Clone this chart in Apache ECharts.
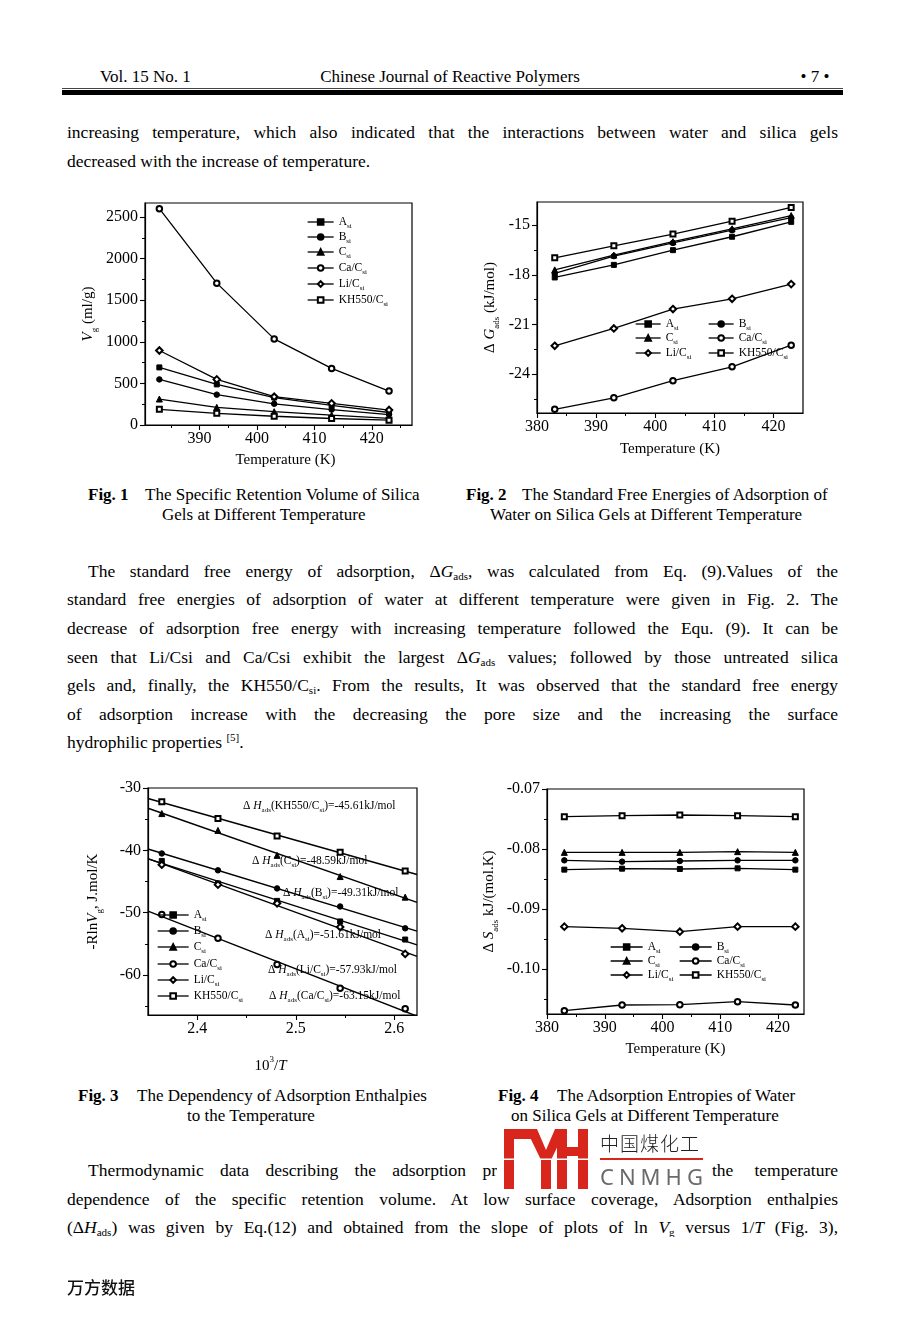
<!DOCTYPE html>
<html><head><meta charset="utf-8">
<script src="https://cdn.jsdelivr.net/npm/echarts@6/dist/echarts.min.js"></script>
<style>
html,body{margin:0;padding:0;background:#fff;}
body{width:904px;height:1320px;position:relative;overflow:hidden;font-family:"Liberation Serif","Times New Roman",serif;color:#000;}
.ln{position:absolute;font-size:17.5px;line-height:20px;height:20px;white-space:nowrap;}
.j{text-align:justify;text-align-last:justify;white-space:normal;overflow:hidden;}
.ln sub{font-size:11px;vertical-align:-3px;line-height:0;}
.ln sup{font-size:11px;vertical-align:7px;line-height:0;}
.hd{position:absolute;font-size:17px;line-height:18px;white-space:nowrap;}
.cap{position:absolute;font-size:17px;line-height:18px;white-space:nowrap;}
.cap b{font-weight:bold;}
.chart{position:absolute;}
</style></head>
<body>
<div class="hd" style="left:100px;top:68px;">Vol. 15 No. 1</div>
<div class="hd" style="left:300px;top:68px;width:300px;text-align:center;">Chinese Journal of Reactive Polymers</div>
<div class="hd" style="left:790px;top:68px;width:50px;text-align:center;">• 7 •</div>
<div style="position:absolute;left:62px;top:88px;width:781px;height:1px;background:#444;"></div>
<div style="position:absolute;left:62px;top:90px;width:781px;height:5px;background:#000;"></div>

<div class="ln j" style="left:67px;top:122px;width:771px;">increasing temperature, which also indicated that the interactions between water and silica gels</div>
<div class="ln" style="left:67px;top:151px;">decreased with the increase of temperature.</div>

<div id="c1" class="chart" style="left:40px;top:190px;width:400px;height:290px;"></div>
<div id="c2" class="chart" style="left:460px;top:190px;width:380px;height:280px;"></div>

<div class="cap" style="left:88px;top:486px;"><b>Fig. 1</b></div>
<div class="cap" style="left:145px;top:486px;">The Specific Retention Volume of Silica</div>
<div class="cap" style="left:162px;top:506px;">Gels at Different Temperature</div>
<div class="cap" style="left:466px;top:486px;"><b>Fig. 2</b></div>
<div class="cap" style="left:522px;top:486px;">The Standard Free Energies of Adsorption of</div>
<div class="cap" style="left:490px;top:506px;">Water on Silica Gels at Different Temperature</div>

<div class="ln j" style="left:88px;top:561px;width:750px;">The standard free energy of adsorption, Δ<i>G</i><sub>ads</sub>, was calculated from Eq. (9).Values of the</div>
<div class="ln j" style="left:67px;top:589px;width:771px;">standard free energies of adsorption of water at different temperature were given in Fig. 2. The</div>
<div class="ln j" style="left:67px;top:618px;width:771px;">decrease of adsorption free energy with increasing temperature followed the Equ. (9). It can be</div>
<div class="ln j" style="left:67px;top:647px;width:771px;">seen that Li/Csi and Ca/Csi exhibit the largest Δ<i>G</i><sub>ads</sub> values; followed by those untreated silica</div>
<div class="ln j" style="left:67px;top:675px;width:771px;">gels and, finally, the KH550/C<sub>si</sub>. From the results, It was observed that the standard free energy</div>
<div class="ln j" style="left:67px;top:704px;width:771px;">of adsorption increase with the decreasing the pore size and the increasing the surface</div>
<div class="ln" style="left:67px;top:732px;">hydrophilic properties <sup>[5]</sup>.</div>

<div id="c3" class="chart" style="left:40px;top:775px;width:400px;height:300px;"></div>
<div id="c4" class="chart" style="left:460px;top:775px;width:380px;height:300px;"></div>

<div class="cap" style="left:78px;top:1087px;"><b>Fig. 3</b></div>
<div class="cap" style="left:137px;top:1087px;">The Dependency of Adsorption Enthalpies</div>
<div class="cap" style="left:187px;top:1107px;">to the Temperature</div>
<div class="cap" style="left:498px;top:1087px;"><b>Fig. 4</b></div>
<div class="cap" style="left:557px;top:1087px;">The Adsorption Entropies of Water</div>
<div class="cap" style="left:511px;top:1107px;">on Silica Gels at Different Temperature</div>

<div class="ln j" style="left:88px;top:1160px;width:409px;">Thermodynamic data describing the adsorption pr</div>
<div class="ln j" style="left:712px;top:1160px;width:126px;">the temperature</div>
<div class="ln j" style="left:67px;top:1189px;width:771px;">dependence of the specific retention volume. At low surface coverage, Adsorption enthalpies</div>
<div class="ln j" style="left:67px;top:1217px;width:771px;">(Δ<i>H</i><sub>ads</sub>) was given by Eq.(12) and obtained from the slope of plots of ln <i>V</i><sub>g</sub> versus 1/<i>T</i> (Fig. 3),</div>

<svg style="position:absolute;left:0;top:0;" width="904" height="1320" viewBox="0 0 904 1320">
  <g fill="#d9261c">
    <rect x="504" y="1129" width="10" height="60"/>
    <rect x="504" y="1129" width="30" height="10"/>
    <polygon points="526,1129 537,1129 546,1150 555,1129 566,1129 551,1160 541,1160"/>
    <rect x="541" y="1158" width="10" height="31"/>
    <rect x="557" y="1129" width="10" height="60"/>
    <rect x="578" y="1129" width="10" height="60"/>
    <rect x="557" y="1147" width="31" height="9"/>
  </g>
  <rect x="500" y="1158.5" width="92" height="1.5" fill="#fff"/>
  <rect x="600" y="1158" width="103" height="2" fill="#d9261c"/>
</svg>
<div style="position:absolute;left:600px;top:1132px;font-family:'Noto Sans CJK SC';font-size:19px;line-height:22px;color:#222;letter-spacing:1px;font-weight:300;">中国煤化工</div>
<div style="position:absolute;left:600px;top:1163px;font-family:'Noto Sans';font-size:22px;line-height:26px;color:#6a6a6a;letter-spacing:5px;">CNMHG</div>

<div style="position:absolute;left:67px;top:1276px;font-family:'Noto Sans CJK SC';font-size:17px;line-height:22px;color:#111;font-weight:500;">万方数据</div>

<script>
// ---------------- data ----------------
const temps = [383, 393, 403, 413, 423];
const invT = [2.364, 2.421, 2.481, 2.545, 2.611];
const seriesNames = ['A', 'B', 'C', 'Ca/C', 'Li/C', 'KH550/C'];

// Fig 1: specific retention volume Vg (ml/g)
const vg_A = [692, 488, 330, 235, 150];
const vg_B = [548, 365, 255, 185, 125];
const vg_C = [312, 212, 160, 118, 80];
const vg_Ca = [2600, 1705, 1035, 680, 408];
const vg_Li = [895, 548, 340, 260, 180];
const vg_KH = [188, 140, 105, 78, 58];
const fig1YTicks = [0, 500, 1000, 1500, 2000, 2500];
const fig1XTicks = [390, 400, 410, 420];

// Fig 2: standard free energy dG (kJ/mol)
const dg_A = [-18.16, -17.40, -16.51, -15.70, -14.80];
const dg_B = [-17.92, -16.87, -16.07, -15.30, -14.55];
const dg_C = [-17.70, -16.81, -16.00, -15.22, -14.42];
const dg_Ca = [-26.13, -25.43, -24.40, -23.56, -22.25];
const dg_Li = [-22.29, -21.24, -20.07, -19.45, -18.56];
const dg_KH = [-16.97, -16.25, -15.54, -14.76, -13.93];
const fig2YTicks = [-24, -21, -18, -15];
const tempTicks = [380, 390, 400, 410, 420];

// Fig 3: -R ln Vg (J/mol/K) vs 1000/T
const rl_A = [-41.7, -45.3, -48.1, -51.4, -54.3];
const rl_B = [-40.5, -43.2, -46.1, -49.0, -52.5];
const rl_C = [-34.1, -36.8, -40.8, -44.2, -47.5];
const rl_Ca = [-50.3, -54.1, -58.3, -62.1, -65.4];
const rl_Li = [-42.3, -45.5, -48.5, -52.3, -56.6];
const rl_KH = [-32.2, -34.9, -37.7, -40.3, -43.3];
const fig3YTicks = [-60, -50, -40, -30];
const fig3XTicks = [2.4, 2.5, 2.6];
const enthalpyLabels = [
  ['KH550/C', '-45.61'], ['C', '-48.59'], ['B', '-49.31'],
  ['A', '-51.61'], ['Li/C', '-57.93'], ['Ca/C', '-63.15']
];

// Fig 4: adsorption entropy dS (kJ/(mol.K))
const ds_A = [-0.08344, -0.08328, -0.08333, -0.08322, -0.08344];
const ds_B = [-0.08189, -0.08211, -0.08200, -0.08189, -0.08189];
const ds_C = [-0.08056, -0.08056, -0.08056, -0.08044, -0.08056];
const ds_Ca = [-0.10694, -0.10600, -0.10594, -0.10544, -0.10600];
const ds_Li = [-0.09294, -0.09322, -0.09378, -0.09294, -0.09294];
const ds_KH = [-0.07461, -0.07444, -0.07433, -0.07444, -0.07461];
const fig4YTicks = [-0.10, -0.09, -0.08, -0.07];

// ---------------- styling helpers ----------------
const SERIF = '"Liberation Serif","Times New Roman",serif';
const SYM = {'A':'rect','B':'circle','C':'triangle','Ca/C':'emptyCircle','Li/C':'emptyDiamond','KH550/C':'emptyRect'};
const SSIZE = {'A':5,'B':5.5,'C':6,'Ca/C':5.5,'Li/C':6.5,'KH550/C':5};
const NAME_RICH = {
  i:{fontStyle:'italic', fontFamily:SERIF, fontSize:15, color:'#000'},
  s:{fontFamily:SERIF, fontSize:9, color:'#000', verticalAlign:'bottom', lineHeight:22},
  p:{fontFamily:SERIF, fontSize:9, color:'#000', verticalAlign:'top', lineHeight:22}
};
const LEG_RICH = {
  m:{fontFamily:SERIF, fontSize:11.5, color:'#000', lineHeight:14},
  s:{fontFamily:SERIF, fontSize:7, color:'#000', verticalAlign:'bottom', lineHeight:15.5}
};

function axisPair(dim, o){
  const pos = dim === 'x' ? 'bottom' : 'left';
  const main = {
    type:'value', min:o.min, max:o.max, position:pos, gridIndex:0,
    axisLine:{show:true, onZero:false, lineStyle:{color:'#000', width:1.2}},
    axisTick:{show:true, inside:false, length:5, customValues:o.major, lineStyle:{color:'#000', width:1.1}},
    axisLabel:{show:true, customValues:o.major, margin:o.margin || 6, color:'#000', fontFamily:SERIF, fontSize:16,
               formatter: o.fmt || (v => String(v))},
    splitLine:{show:false}, minorTick:{show:false},
    name:o.name, nameLocation:'middle', nameGap:o.gap, nameRotate: dim === 'y' ? 90 : 0,
    nameMoveOverlap:false,
    nameTextStyle:{color:'#000', fontFamily:SERIF, fontSize:15, padding:o.pad || 0, rich:NAME_RICH}
  };
  const minor = {
    type:'value', min:o.min, max:o.max, position:pos, gridIndex:0,
    axisLine:{show:false}, axisLabel:{show:false}, splitLine:{show:false},
    axisTick:{show:true, inside:false, length:3, customValues:o.minor, lineStyle:{color:'#000', width:1}}
  };
  return [main, minor];
}

function mkSeries(name, xs, ys, hideLine){
  return {
    type:'line', name:name, data: xs.map((x, i) => [x, ys[i]]),
    xAxisIndex:0, yAxisIndex:0, symbol:SYM[name], symbolSize:SSIZE[name], showSymbol:true,
    lineStyle:{color:'#000', width:1.3, opacity: hideLine ? 0 : 1},
    itemStyle:{color:'#000', borderColor:'#000', borderWidth:1},
    emphasis:{disabled:true}, animation:false, z:3
  };
}

function mkLegends(items, itemWidth){
  return items.map(it => ({
    show:true, data:[it[0]], left:it[1], top:it[2], orient:'horizontal', padding:0, itemGap:0,
    itemWidth:itemWidth, itemHeight:7, selectedMode:false,
    formatter: n => '{m|' + n + '}{s|si}',
    textStyle:{rich:LEG_RICH, fontFamily:SERIF, fontSize:11.5, color:'#000'},
    lineStyle:{color:'#000', width:1.3, opacity:1}
  }));
}

function gridOf(l, t, w, h){
  return {left:l, top:t, width:w, height:h, show:true, borderColor:'#000', borderWidth:1.2,
          backgroundColor:'transparent', containLabel:false, outerBoundsMode:'none'};
}

// ---------------- Fig 1 ----------------
(function(){
  const c = echarts.init(document.getElementById('c1'));
  const xs = axisPair('x', {min:380.5, max:427, major:fig1XTicks, minor:[385,395,405,415,425],
                           name:'Temperature (K)', gap:28, pad:[0,0,0,14]});
  const ys = axisPair('y', {min:0, max:2668, major:fig1YTicks, minor:[250,750,1250,1750,2250],
                           name:'{i|V}{s|g} (ml/g)', gap:46, margin:7});
  const ser = [
    mkSeries('A', temps, vg_A), mkSeries('B', temps, vg_B), mkSeries('C', temps, vg_C),
    mkSeries('Ca/C', temps, vg_Ca), mkSeries('Li/C', temps, vg_Li), mkSeries('KH550/C', temps, vg_KH)
  ];
  c.setOption({
    animation:false, backgroundColor:'transparent',
    grid:[gridOf(105, 13, 267, 222)], xAxis:xs, yAxis:ys, series:ser,
    legend: mkLegends([['A',267,26],['B',267,41],['C',267,56],['Ca/C',267,72],['Li/C',267,88],['KH550/C',267,104]], 26)
  });
})();

// ---------------- Fig 2 ----------------
(function(){
  const c = echarts.init(document.getElementById('c2'));
  const xs = axisPair('x', {min:380, max:425, major:tempTicks, minor:[385,395,405,415],
                           name:'Temperature (K)', gap:29});
  const ys = axisPair('y', {min:-26.35, max:-13.6, major:fig2YTicks, minor:[-25.5,-22.5,-19.5,-16.5],
                           name:'Δ {i|G}{s|ads} (kJ/mol)', gap:36, margin:7});
  const ser = [
    mkSeries('A', temps, dg_A), mkSeries('B', temps, dg_B), mkSeries('C', temps, dg_C),
    mkSeries('Ca/C', temps, dg_Ca), mkSeries('Li/C', temps, dg_Li), mkSeries('KH550/C', temps, dg_KH)
  ];
  c.setOption({
    animation:false, backgroundColor:'transparent',
    grid:[gridOf(77, 12, 266, 211)], xAxis:xs, yAxis:ys, series:ser,
    legend: mkLegends([['A',175,128],['B',248,128],['C',175,142],['Ca/C',248,142],['Li/C',175,157],['KH550/C',248,157]], 25)
  });
})();

// ---------------- Fig 3 ----------------
(function(){
  const c = echarts.init(document.getElementById('c3'));
  const xMin = 2.350, xMax = 2.623;
  const xs = axisPair('x', {min:xMin, max:xMax, major:fig3XTicks, minor:[2.45,2.55],
                           name:'10{p|3}/{i|T}', gap:40, pad:[0,24,0,0], fmt:v => v.toFixed(1)});
  const ys = axisPair('y', {min:-66.4, max:-30, major:fig3YTicks, minor:[-65,-55,-45,-35],
                           name:'-Rln{i|V}{s|g}, J.mol/K', gap:44, margin:7});
  const sets = [['A', rl_A], ['B', rl_B], ['C', rl_C], ['Ca/C', rl_Ca], ['Li/C', rl_Li], ['KH550/C', rl_KH]];
  const ser = [];
  sets.forEach(s => {
    const ys_ = s[1], n = invT.length;
    let mx = 0, my = 0; for (let i=0;i<n;i++){ mx += invT[i]; my += ys_[i]; } mx/=n; my/=n;
    let sxy = 0, sxx = 0; for (let i=0;i<n;i++){ sxy += (invT[i]-mx)*(ys_[i]-my); sxx += (invT[i]-mx)*(invT[i]-mx); }
    const b = sxy/sxx, a = my - b*mx;
    ser.push({type:'line', name:'fit ' + s[0], data:[[xMin, a + b*xMin], [xMax, a + b*xMax]],
              symbol:'none', lineStyle:{color:'#000', width:1.4}, emphasis:{disabled:true}, animation:false, z:2});
    ser.push(mkSeries(s[0], invT, ys_, true));
  });
  const annPos = [[203,31],[212,86],[243,118],[225,160],[228,195],[229,221]];
  const graphic = enthalpyLabels.map((e, i) => ({
    type:'text', x:annPos[i][0], y:annPos[i][1], z:10,
    style:{text:'Δ {i|H}{s|ads}(' + e[0] + '{s|si})=' + e[1] + 'kJ/mol', fill:'#000',
           fontFamily:SERIF, fontSize:11.5, verticalAlign:'middle',
           rich:{i:{fontStyle:'italic', fontFamily:SERIF, fontSize:11.5, fill:'#000'},
                 s:{fontFamily:SERIF, fontSize:7, fill:'#000', verticalAlign:'bottom', lineHeight:16}}}
  }));
  c.setOption({
    animation:false, backgroundColor:'transparent',
    grid:[gridOf(108, 13, 269, 227)], xAxis:xs, yAxis:ys, series:ser, graphic:graphic,
    legend: mkLegends([['A',117,134],['B',117,150],['C',117,166],['Ca/C',117,183],['Li/C',117,199],['KH550/C',117,215]], 31)
  });
})();

// ---------------- Fig 4 ----------------
(function(){
  const c = echarts.init(document.getElementById('c4'));
  const xs = axisPair('x', {min:380, max:424.5, major:tempTicks, minor:[385,395,405,415],
                           name:'Temperature (K)', gap:28});
  const ys = axisPair('y', {min:-0.1075, max:-0.07, major:fig4YTicks, minor:[-0.105,-0.095,-0.085,-0.075],
                           name:'Δ {i|S}{s|ads} kJ/(mol.K)', gap:47, margin:7, fmt:v => v.toFixed(2)});
  const ser = [
    mkSeries('A', temps, ds_A), mkSeries('B', temps, ds_B), mkSeries('C', temps, ds_C),
    mkSeries('Ca/C', temps, ds_Ca), mkSeries('Li/C', temps, ds_Li), mkSeries('KH550/C', temps, ds_KH)
  ];
  c.setOption({
    animation:false, backgroundColor:'transparent',
    grid:[gridOf(87, 14, 257, 225)], xAxis:xs, yAxis:ys, series:ser,
    legend: mkLegends([['A',150,166],['B',219,166],['C',150,180],['Ca/C',219,180],['Li/C',150,194],['KH550/C',219,194]], 32)
  });
})();
</script>
</body></html>
